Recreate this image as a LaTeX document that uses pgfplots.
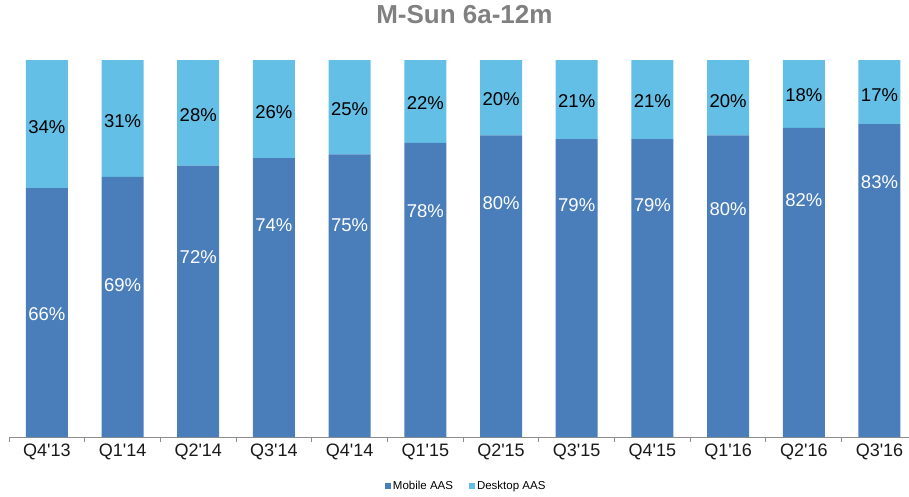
\documentclass[border=0pt]{standalone}
\usepackage{pgfplots}
\pgfplotsset{compat=1.18}
\usepackage{pgfplotstable}
\usepackage{fontspec}
\setmainfont{Liberation Sans}
\definecolor{mob}{HTML}{4A7EBB}
\definecolor{desk}{HTML}{63BFE5}
\definecolor{axgray}{HTML}{8C8C8C}
\definecolor{titlegray}{HTML}{808080}
\newcommand\q{\textquotesingle}
\pgfplotstableread{
x mob desk mly dly
0 66 34 32.6 82.3
1 69 31 40.3 83.9
2 72 28 47.8 85.4
3 74 26 56.2 86.3
4 75 25 56.2 86.9
5 78 22 60.0 88.5
6 80 20 62.0 89.6
7 79 21 61.5 89.1
8 79 21 61.5 89.1
9 80 20 60.5 89.1
10 82 18 62.9 90.7
11 83 17 67.5 90.7
}\data
\begin{document}
\begin{tikzpicture}
\begin{axis}[
  scale only axis, width=900pt, height=377pt,
  xmin=-0.5, xmax=11.39, ymin=0, ymax=100,
  ybar stacked, bar width=42pt,
  axis x line*=bottom, axis y line=none,
  xtick={0,...,11},
  xticklabels={Q4\q13,Q1\q14,Q2\q14,Q3\q14,Q4\q14,Q1\q15,Q2\q15,Q3\q15,Q4\q15,Q1\q16,Q2\q16,Q3\q16},
  major tick length=0pt,
  minor xtick={-0.5,0.5,...,10.5},
  minor tick length=5pt,
  tick align=outside,
  x axis line style={axgray, line width=1pt, -},
  tick style={axgray, line width=1pt},
  xticklabel style={font=\fontsize{18}{20}\selectfont, text=black!90, anchor=base, yshift=-19.5pt},
  title={M-Sun 6a-12m},
  title style={font=\bfseries\fontsize{26}{30}\selectfont, text=titlegray, at={(axis description cs:0.506,1)}, anchor=base, yshift=30pt},
  legend style={at={(axis description cs:0.508,-0.13)}, anchor=center, draw=none, fill=none, font=\fontsize{11.5}{13}\selectfont, legend columns=2, /tikz/every even column/.append style={column sep=14pt}},
  legend image code/.code={\fill[#1] (0pt,-3pt) rectangle (6pt,3pt);},
  /pgf/number format/assume math mode=true,
]
\addplot[fill=mob, draw=none,
  nodes near coords={\pgfmathprintnumber{\pgfplotspointmeta}\%},
  point meta=explicit,
  visualization depends on={(\thisrow{mly}-0.5*\thisrow{mob})*3.77 \as \sh},
  every node near coord/.append style={anchor=center, yshift=\sh pt, text=white, font=\fontsize{18.5}{20}\selectfont}]
  table[x=x, y=mob, meta=mob]{\data};
\addplot[fill=desk, draw=none,
  nodes near coords={\pgfmathprintnumber{\pgfplotspointmeta}\%},
  point meta=explicit,
  visualization depends on={(\thisrow{dly}-\thisrow{mob}-0.5*\thisrow{desk})*3.77 \as \sh},
  every node near coord/.append style={anchor=center, yshift=\sh pt, text=black, font=\fontsize{18.5}{20}\selectfont}]
  table[x=x, y=desk, meta=desk]{\data};
\legend{Mobile AAS, Desktop AAS}
\end{axis}
\pgfresetboundingbox
\path[use as bounding box] (-9pt,-59pt) rectangle (900pt,437pt);
\end{tikzpicture}
\end{document}
